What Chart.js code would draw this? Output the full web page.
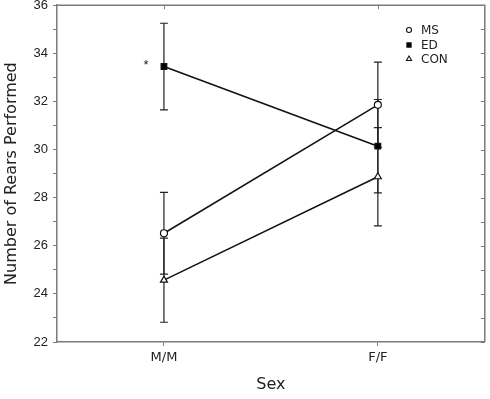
<!DOCTYPE html>
<html>
<head>
<meta charset="utf-8">
<script src="https://cdn.jsdelivr.net/npm/chart.js@4"></script>
<style>
  html, body { margin: 0; padding: 0; background: #fff; }
  #wrap { width: 490px; height: 399px; }
</style>
</head>
<body>
<div id="wrap"><canvas id="rears-chart"></canvas></div>
<script>
// datos
const categories = ['M/M', 'F/F'];
const msValues = [26.52, 31.86];
const msErrors = [1.7, 1.77];
const edValues = [33.45, 30.14];
const edErrors = [1.8, 1.94];
const conValues = [24.57, 28.87];
const conErrors = [1.75, 2.04];
const seriesNames = ['MS', 'ED', 'CON'];
const yMin = 22;
const yMax = 36;

const axisColor = '#7a7a7a';
const inkColor = '#111';

// barras de error, marco superior/derecho y leyenda
const extrasPlugin = {
  id: 'extras',
  beforeDatasetsDraw(chart) {
    const ctx = chart.ctx;
    const y = chart.scales.y;
    ctx.save();
    ctx.strokeStyle = '#222';
    ctx.lineWidth = 1.2;
    chart.data.datasets.forEach((ds, i) => {
      const meta = chart.getDatasetMeta(i);
      meta.data.forEach((pt, j) => {
        const v = ds.data[j];
        const e = ds.errors[j];
        const top = y.getPixelForValue(v + e);
        const bot = y.getPixelForValue(v - e);
        ctx.beginPath();
        ctx.moveTo(pt.x, top); ctx.lineTo(pt.x, bot);
        ctx.moveTo(pt.x - 4, top); ctx.lineTo(pt.x + 4, top);
        ctx.moveTo(pt.x - 4, bot); ctx.lineTo(pt.x + 4, bot);
        ctx.stroke();
      });
    });
    ctx.restore();
  },
  afterDraw(chart) {
    const ctx = chart.ctx;
    const area = chart.chartArea;
    const x = chart.scales.x;
    const y = chart.scales.y;
    ctx.save();
    // marco
    ctx.strokeStyle = axisColor;
    ctx.lineWidth = 1.5;
    ctx.beginPath();
    ctx.moveTo(area.left, area.top); ctx.lineTo(area.right, area.top);
    ctx.lineTo(area.right, area.bottom);
    ctx.stroke();
    ctx.lineWidth = 1;
    ctx.beginPath();
    y.ticks.forEach(t => {
      const py = Math.round(y.getPixelForValue(t.value)) + 0.5;
      ctx.moveTo(area.right, py); ctx.lineTo(area.right - 4, py);
    });
    categories.forEach((c, i) => {
      const px = Math.round(x.getPixelForValue(i)) + 0.5;
      ctx.moveTo(px, area.top); ctx.lineTo(px, area.top + 4);
    });
    ctx.stroke();

    // asterisco sobre ED M/M
    const edPoint = chart.getDatasetMeta(1).data[0];
    ctx.fillStyle = '#222';
    ctx.font = '13px "Liberation Sans"';
    ctx.textAlign = 'center';
    ctx.textBaseline = 'middle';
    ctx.fillText('*', edPoint.x - 18, edPoint.y - 1);

    // leyenda
    const lx = 409;
    const rows = [30, 45, 59];
    ctx.textAlign = 'left';
    ctx.font = '12px "DejaVu Sans"';
    chart.data.datasets.forEach((ds, i) => {
      ctx.strokeStyle = inkColor;
      ctx.fillStyle = ds.pointBackgroundColor;
      ctx.lineWidth = 1.1;
      Chart.helpers.drawPoint(ctx, {
        pointStyle: ds.pointStyle,
        radius: ds.pointRadius - 1,
        rotation: 0,
        borderWidth: 1.1
      }, lx, rows[i]);
      ctx.fillStyle = '#222';
      ctx.fillText(ds.label, lx + 12, rows[i] + 1);
    });
    ctx.restore();
  }
};

function makeSeries(label, values, errors, style, fill, radius) {
  return {
    label: label,
    data: values,
    errors: errors,
    borderColor: inkColor,
    borderWidth: 1.5,
    pointStyle: style,
    pointRadius: radius,
    pointBackgroundColor: fill,
    pointBorderColor: inkColor,
    pointBorderWidth: 1.2,
    tension: 0,
    fill: false
  };
}

document.addEventListener('DOMContentLoaded', () => {
  const ctx = document.getElementById('rears-chart').getContext('2d');
  new Chart(ctx, {
    type: 'line',
    data: {
      labels: categories,
      datasets: [
        makeSeries(seriesNames[0], msValues, msErrors, 'circle', '#fff', 3.5),
        makeSeries(seriesNames[1], edValues, edErrors, 'rect', '#000', 4),
        makeSeries(seriesNames[2], conValues, conErrors, 'triangle', '#fff', 4)
      ]
    },
    options: {
      responsive: true,
      maintainAspectRatio: false,
      animation: false,
      layout: { padding: { top: 5, right: 4, left: 0, bottom: 0 } },
      plugins: {
        legend: { display: false },
        tooltip: { enabled: false }
      },
      scales: {
        x: {
          type: 'category',
          offset: true,
          afterFit: (scale) => {
            scale.height = 57;
            scale.paddingLeft = 0;
            scale.paddingRight = 0;
          },
          grid: {
            drawOnChartArea: false,
            drawTicks: true,
            tickLength: 4,
            color: axisColor,
            offset: false
          },
          border: { display: true, color: axisColor, width: 1.5 },
          ticks: {
            color: '#222',
            font: { family: '"DejaVu Sans"', size: 13 },
            padding: 4,
            maxRotation: 0
          },
          title: {
            display: true,
            text: 'Sex',
            color: '#222',
            font: { family: '"DejaVu Sans"', size: 16 },
            padding: { top: 0, bottom: 5 }
          }
        },
        y: {
          min: yMin,
          max: yMax,
          afterFit: (scale) => {
            scale.width = 57;
            scale.paddingTop = 0;
            scale.paddingBottom = 0;
          },
          grid: {
            drawOnChartArea: false,
            drawTicks: true,
            tickLength: 4,
            color: axisColor
          },
          border: { display: true, color: axisColor, width: 1.5 },
          ticks: {
            stepSize: 1,
            autoSkip: false,
            color: '#222',
            font: { family: '"Liberation Sans"', size: 13 },
            padding: 5,
            callback: (v) => (v % 2 === 0 ? v : '')
          },
          title: {
            display: true,
            text: 'Number of Rears Performed',
            color: '#222',
            font: { family: '"DejaVu Sans"', size: 16 },
            padding: { top: 2, bottom: 0 }
          }
        }
      }
    },
    plugins: [extrasPlugin]
  });
});
</script>
</body>
</html>
